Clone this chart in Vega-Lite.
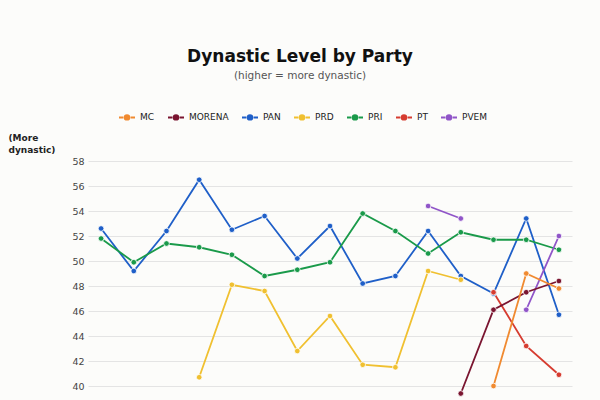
{
  "$schema": "https://vega.github.io/schema/vega-lite/v6.json",
  "autosize": {"type": "none"},
  "padding": {"left": 88, "top": 161, "right": 28, "bottom": 0},
  "width": 484,
  "height": 239,
  "background": "#fcfcfa",
  "config": {
    "font": "DejaVu Sans",
    "view": {"stroke": null},
    "mark": {"invalid": "break-paths-filter-domains"}
  },
  "title": {
    "text": "Dynastic Level by Party",
    "subtitle": "(higher = more dynastic)",
    "fontSize": 17,
    "fontWeight": "bold",
    "color": "#111111",
    "subtitleFontSize": 10.5,
    "subtitleColor": "#555555",
    "subtitlePadding": 5,
    "anchor": "middle",
    "frame": "group",
    "dx": -30,
    "offset": 26
  },
  "data": {
    "values": [
      {"year": 1982, "party": "PAN", "level": 52.6},
      {"year": 1985, "party": "PAN", "level": 49.2},
      {"year": 1988, "party": "PAN", "level": 52.4},
      {"year": 1991, "party": "PAN", "level": 56.5},
      {"year": 1994, "party": "PAN", "level": 52.5},
      {"year": 1997, "party": "PAN", "level": 53.6},
      {"year": 2000, "party": "PAN", "level": 50.2},
      {"year": 2003, "party": "PAN", "level": 52.8},
      {"year": 2006, "party": "PAN", "level": 48.2},
      {"year": 2009, "party": "PAN", "level": 48.8},
      {"year": 2012, "party": "PAN", "level": 52.4},
      {"year": 2015, "party": "PAN", "level": 48.8},
      {"year": 2018, "party": "PAN", "level": 47.4},
      {"year": 2021, "party": "PAN", "level": 53.4},
      {"year": 2024, "party": "PAN", "level": 45.7},
      {"year": 1982, "party": "PRI", "level": 51.8},
      {"year": 1985, "party": "PRI", "level": 49.9},
      {"year": 1988, "party": "PRI", "level": 51.4},
      {"year": 1991, "party": "PRI", "level": 51.1},
      {"year": 1994, "party": "PRI", "level": 50.5},
      {"year": 1997, "party": "PRI", "level": 48.8},
      {"year": 2000, "party": "PRI", "level": 49.3},
      {"year": 2003, "party": "PRI", "level": 49.9},
      {"year": 2006, "party": "PRI", "level": 53.8},
      {"year": 2009, "party": "PRI", "level": 52.4},
      {"year": 2012, "party": "PRI", "level": 50.6},
      {"year": 2015, "party": "PRI", "level": 52.3},
      {"year": 2018, "party": "PRI", "level": 51.7},
      {"year": 2021, "party": "PRI", "level": 51.7},
      {"year": 2024, "party": "PRI", "level": 50.9},
      {"year": 1991, "party": "PRD", "level": 40.7},
      {"year": 1994, "party": "PRD", "level": 48.1},
      {"year": 1997, "party": "PRD", "level": 47.6},
      {"year": 2000, "party": "PRD", "level": 42.8},
      {"year": 2003, "party": "PRD", "level": 45.6},
      {"year": 2006, "party": "PRD", "level": 41.7},
      {"year": 2009, "party": "PRD", "level": 41.5},
      {"year": 2012, "party": "PRD", "level": 49.2},
      {"year": 2015, "party": "PRD", "level": 48.5},
      {"year": 2012, "party": "PVEM", "level": 54.4},
      {"year": 2015, "party": "PVEM", "level": 53.4},
      {"year": 2018, "party": "PVEM", "level": null},
      {"year": 2021, "party": "PVEM", "level": 46.1},
      {"year": 2024, "party": "PVEM", "level": 52.0},
      {"year": 2018, "party": "PT", "level": 47.5},
      {"year": 2021, "party": "PT", "level": 43.2},
      {"year": 2024, "party": "PT", "level": 40.9},
      {"year": 2015, "party": "MORENA", "level": 39.4},
      {"year": 2018, "party": "MORENA", "level": 46.1},
      {"year": 2021, "party": "MORENA", "level": 47.5},
      {"year": 2024, "party": "MORENA", "level": 48.4},
      {"year": 2018, "party": "MC", "level": 40.0},
      {"year": 2021, "party": "MC", "level": 49.0},
      {"year": 2024, "party": "MC", "level": 47.8}
    ]
  },
  "encoding": {
    "x": {
      "field": "year",
      "type": "ordinal",
      "scale": {"type": "point", "padding": 0.4},
      "axis": null
    },
    "y": {
      "field": "level",
      "type": "quantitative",
      "scale": {"domain": [38.88, 58], "nice": false, "zero": false},
      "axis": {
        "values": [40, 42, 44, 46, 48, 50, 52, 54, 56, 58],
        "domain": false,
        "ticks": false,
        "labelPadding": 4,
        "labelFontSize": 9.5,
        "labelColor": "#444444",
        "gridColor": "#e4e4e4",
        "gridWidth": 1,
        "title": ["(More", "dynastic)"],
        "titleAngle": 0,
        "titleAlign": "left",
        "titleBaseline": "top",
        "titleX": -80,
        "titleY": -28,
        "titleFontSize": 9,
        "titleFontWeight": "bold",
        "titleColor": "#222222",
        "titleLineHeight": 12
      }
    },
    "color": {
      "field": "party",
      "type": "nominal",
      "scale": {
        "domain": ["MC", "MORENA", "PAN", "PRD", "PRI", "PT", "PVEM"],
        "range": ["#f08a30", "#7a1530", "#1f5fc8", "#f0c030", "#1a9a4a", "#d63c30", "#9055c8"]
      },
      "legend": {
        "orient": "none",
        "direction": "horizontal",
        "legendX": 30,
        "legendY": -53,
        "title": null,
        "symbolType": "M-1,0H-0.45M0.45,0H1M0.28,0A0.28,0.28,0,1,1,-0.28,0A0.28,0.28,0,1,1,0.28,0Z",
        "symbolSize": 256,
        "symbolStrokeWidth": 2,
        "labelFontSize": 9,
        "labelColor": "#222222",
        "labelOffset": 4,
        "columnPadding": 9,
        "encode": {
          "symbols": {"update": {"fill": {"scale": "color", "field": "value"}, "stroke": {"scale": "color", "field": "value"}}}
        }
      }
    }
  },
  "layer": [
    {"mark": {"type": "line", "strokeWidth": 1.8}},
    {"mark": {"type": "point", "filled": true, "size": 32, "stroke": "white", "strokeWidth": 0.8, "opacity": 1}}
  ]
}
